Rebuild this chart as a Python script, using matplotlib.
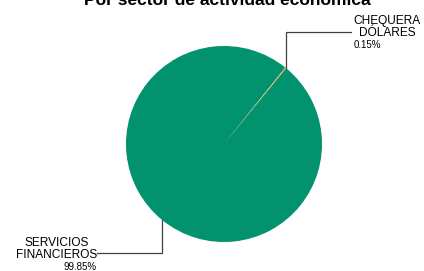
import numpy as np
import matplotlib.pyplot as plt

plt.rcParams['font.family'] = ['Liberation Sans', 'DejaVu Sans']

sectores = ["SERVICIOS\nFINANCIEROS", "CHEQUERA\nDÓLARES"]
porcentajes = [99.85, 0.15]
colores = ["#00936E", "#F4A460"]
titulo = "Por sector de actividad económica"

W, H = 424, 271
fig = plt.figure(figsize=(W / 100, H / 100), dpi=100)
ax = fig.add_axes([0, 0, 1, 1])

cx, cy, r = 224, H - 144, 98
wedges, _ = ax.pie(porcentajes, colors=colores, startangle=51.27,
                   center=(cx, cy), radius=r, frame=True,
                   wedgeprops=dict(linewidth=0))
ax.set_xlim(0, W)
ax.set_ylim(0, H)
ax.set_aspect('equal')
ax.axis('off')

# punto medio de cada sector sobre el borde
def borde(w):
    ang = np.deg2rad((w.theta1 + w.theta2) / 2)
    return cx + r * np.cos(ang), cy + r * np.sin(ang)

lc = "#404040"
# CHEQUERA DOLARES
x0, y0 = borde(wedges[1])
ax.plot([x0, x0, 351], [y0, H - 32, H - 32], color=lc, lw=0.9, solid_joinstyle='miter')
ax.text(387, H - 36, sectores[1], ha='center', va='baseline', fontsize=8.6, linespacing=1.0)
ax.text(354, H - 48, f"{porcentajes[1]:.2f}%", ha='left', va='baseline', fontsize=7)

# SERVICIOS FINANCIEROS
x1, y1 = borde(wedges[0])
ax.plot([x1, x1, 97], [y1, H - 253, H - 253], color=lc, lw=0.9, solid_joinstyle='miter')
ax.text(56.5, H - 258, sectores[0], ha='center', va='baseline', fontsize=8.6, linespacing=1.0)
ax.text(97, H - 270, f"{porcentajes[0]:.2f}%", ha='right', va='baseline', fontsize=7)

ax.text(227, H - 5, titulo, ha='center', va='baseline', fontsize=12.5, fontweight='bold')

fig.savefig("out.png", dpi=100)
